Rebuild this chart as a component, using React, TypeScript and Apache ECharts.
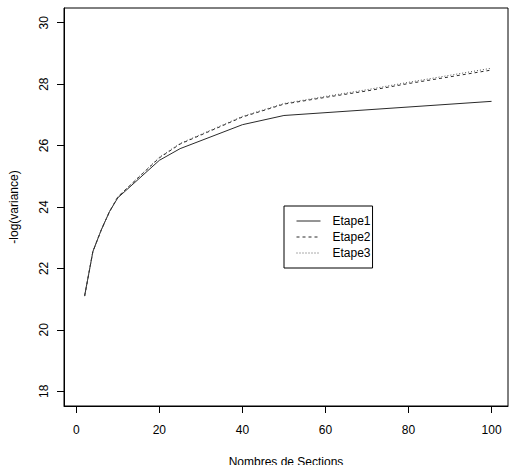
import React, { useEffect, useRef } from "react";
import * as echarts from "echarts";

const sections1 = [2, 4, 6, 8, 10, 20, 25, 40, 50, 100];
const etape1 = [21.1, 22.55, 23.25, 23.85, 24.3, 25.52, 25.9, 26.68, 26.98, 27.44];

const sections2 = [2, 4, 6, 8, 10, 20, 25, 40, 50, 60, 70, 80, 90, 100];
const etape2 = [21.1, 22.55, 23.25, 23.85, 24.33, 25.6, 26.05, 26.93, 27.35, 27.57, 27.78, 28.02, 28.24, 28.46];
const etape3 = [21.1, 22.55, 23.25, 23.85, 24.33, 25.62, 26.07, 26.95, 27.37, 27.6, 27.82, 28.06, 28.29, 28.52];

const FONT = "Liberation Sans, Arial, Helvetica, sans-serif";

function pairs(xs: number[], ys: number[]) {
  return xs.map((x, i) => [x, ys[i]]);
}

export default function App() {
  const ref = useRef<HTMLDivElement>(null);
  useEffect(() => {
    if (!ref.current) return;
    const chart = echarts.init(ref.current, null, { renderer: "svg" });
    const lineColor = "#2a2a2a";
    chart.setOption({
      animation: false,
      backgroundColor: "#fff",
      textStyle: { fontFamily: FONT },
      grid: {
        left: 64,
        top: 8,
        right: 8,
        bottom: 59,
        show: true,
        containLabel: false,
        outerBoundsMode: "none",
        borderColor: "#000",
        borderWidth: 1,
        backgroundColor: "transparent",
      },
      legend: {
        left: 284,
        top: 206,
        orient: "vertical",
        itemWidth: 24,
        itemHeight: 12,
        itemGap: 4,
        padding: [9, 2, 9, 12],
        borderColor: "#000",
        borderWidth: 1,
        backgroundColor: "#fff",
        itemStyle: { opacity: 0 },
        lineStyle: { width: 1 },
        textStyle: { fontSize: 12, color: "#000", fontFamily: FONT, padding: [0, 0, 0, 7] },
        data: ["Etape1", "Etape2", "Etape3"],
      },
      xAxis: {
        type: "value",
        min: -2.96,
        max: 103.96,
        splitNumber: 5,
        name: "Nombres de Sections",
        nameLocation: "middle",
        nameGap: 50,
        nameTextStyle: { fontSize: 12, color: "#000", fontFamily: FONT },
        axisLine: { show: true, onZero: false, lineStyle: { color: "#000", width: 1 } },
        splitLine: { show: false },
        axisTick: {
          show: true,
          inside: false,
          length: 7,
          lineStyle: { color: "#000", width: 1 },
        },
        axisLabel: {
          show: true,
          fontSize: 12,
          color: "#000",
          margin: 18,
          fontFamily: FONT,
          showMinLabel: false,
          showMaxLabel: false,
        },
      },
      yAxis: {
        type: "value",
        min: 17.52,
        max: 30.48,
        splitNumber: 6,
        name: "-log(variance)",
        nameLocation: "middle",
        nameGap: 44,
        nameRotate: 90,
        nameTextStyle: { fontSize: 12, color: "#000", fontFamily: FONT },
        axisLine: { show: true, onZero: false, lineStyle: { color: "#000", width: 1 } },
        splitLine: { show: false },
        axisTick: {
          show: true,
          inside: false,
          length: 7,
          lineStyle: { color: "#000", width: 1 },
        },
        axisLabel: {
          fontSize: 12,
          color: "#000",
          margin: 14,
          rotate: 90,
          fontFamily: FONT,
          showMinLabel: false,
          showMaxLabel: false,
        },
      },
      series: [
        {
          name: "Etape1",
          type: "line",
          symbol: "none",
          data: pairs(sections1, etape1),
          lineStyle: { color: lineColor, width: 1, type: "solid" },
          itemStyle: { color: lineColor },
        },
        {
          name: "Etape2",
          type: "line",
          symbol: "none",
          data: pairs(sections2, etape2),
          lineStyle: { color: lineColor, width: 1, type: [3, 3] },
          itemStyle: { color: lineColor },
        },
        {
          name: "Etape3",
          type: "line",
          symbol: "none",
          data: pairs(sections2, etape3),
          lineStyle: { color: "#555", width: 1, type: [1, 2] },
          itemStyle: { color: "#555" },
        },
      ],
    });
    return () => chart.dispose();
  }, []);
  return (
    <div
      ref={ref}
      style={{ position: "absolute", left: 0, top: 0, width: 516, height: 465 }}
    />
  );
}
